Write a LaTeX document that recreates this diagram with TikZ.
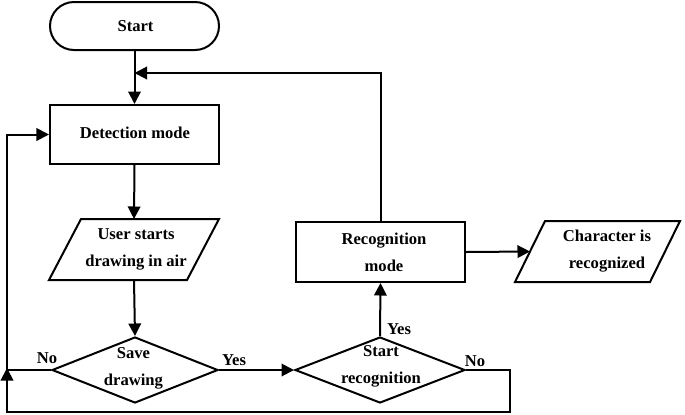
\documentclass[tikz,border=0pt]{standalone}
\usepackage{fontspec}
\setmainfont{Liberation Serif}
\usetikzlibrary{arrows.meta,shapes.geometric}
\begin{document}
\begin{tikzpicture}[x=1bp,y=-1bp,
  line width=2bp,
  txt/.style={font=\fontsize{16.6bp}{27bp}\selectfont\bfseries, align=center, inner sep=0pt},
  boxshape/.style={draw, rectangle, inner sep=0pt},
  ghost/.style={rectangle, inner sep=0pt},
  dia/.style={draw, diamond, inner sep=0pt, aspect=2.5},
  arr/.style={-{Triangle[length=12.5bp,width=12.5bp]}}
]
\useasboundingbox (0,0) rectangle (685,414);
% nodes
\node[boxshape, rounded corners=24bp, minimum width=169bp, minimum height=48bp] (start) at (134.5,26) {};
\node[txt] (starttxt) at (135.5,26) {Start};
\node[boxshape, minimum width=169bp, minimum height=59bp] (detect) at (134.5,134.5) {};
\node[txt] (detecttxt) at (135,133) {Detection mode};
\node[ghost, minimum width=136bp, minimum height=59bp] (user) at (134,249.5) {};
\draw ([xshift=16bp]user.north west) -- ([xshift=16bp]user.north east) -- ([xshift=-16bp]user.south east) -- ([xshift=-16bp]user.south west) -- cycle;
\node[txt] (usertxt) at (136,249.5) {User starts\\drawing in air};
\node[dia, minimum width=166bp, minimum height=66bp] (save) at (135,370) {};
\node[txt] (savetxt) at (133.5,368.5) {Save\\drawing};
\node[dia, minimum width=170bp, minimum height=66bp] (srec) at (380,370) {};
\node[txt] (srectxt) at (381,366.5) {Start\\recognition};
\node[boxshape, minimum width=169bp, minimum height=60bp] (recog) at (380.5,252) {};
\node[txt] (recogtxt) at (384,252) {Recognition\\mode};
\node[ghost, minimum width=133bp, minimum height=59bp] (char) at (597.5,251.5) {};
\draw ([xshift=15bp]char.north west) -- ([xshift=15bp]char.north east) -- ([xshift=-15bp]char.south east) -- ([xshift=-15bp]char.south west) -- cycle;
\node[txt] (chartxt) at (607,251.5) {Character is\\recognized};
% labels
\node[txt] (nol) at (47,358) {No};
\node[txt] (yesl) at (234,360) {Yes};
\node[txt] (yesu) at (399,329) {Yes};
\node[txt] (nor) at (475,361) {No};
% coordinates
\coordinate (fb) at (134.5,73);
\coordinate (lc) at (7,370);
\coordinate (br) at (510,412);
\coordinate (bl) at (7,412);
% connectors
\draw[arr] (start.south) -- (detect.north);
\draw[arr] (recog.north) |- (fb);
\draw[arr] (detect.south) -- (user.north);
\draw[arr] (user.south) -- (save.north);
\draw[arr] (save.west) -- (lc) |- (detect.west);
\draw[arr] (save.east) -- (srec.west);
\draw[arr] (srec.north) -- (recog.south);
\draw[arr] (recog.east) -- (char.west);
\draw[arr] (srec.east) -| (br) -- (bl) -- ([yshift=2bp]lc);
\end{tikzpicture}
\end{document}
